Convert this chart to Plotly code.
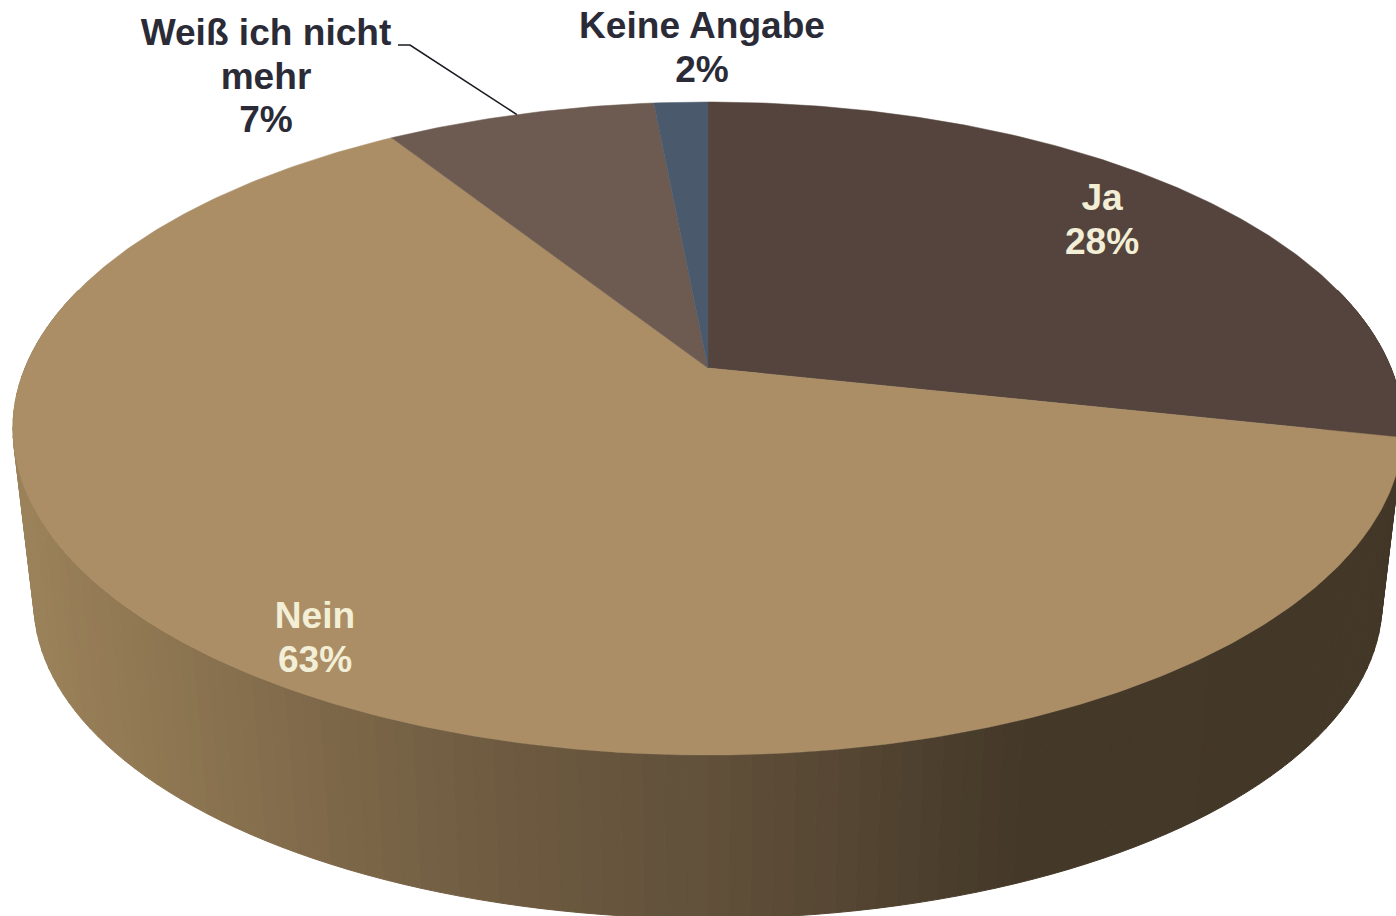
import numpy as np
import plotly.graph_objects as go

# Data
categories = ["Ja", "Nein", "Weiß ich nicht mehr", "Keine Angabe"]
values = [28.4, 62.6, 7.5, 1.5]
top_colors = ["#54443D", "#AB8E66", "#6D5B51", "#4A5A6C"]
label_lines = [["Ja", "28%"], ["Nein", "63%"], ["Weiß ich nicht", "mehr", "7%"], ["Keine Angabe", "2%"]]
label_colors = ["#F3EFD6", "#F3EFD6", "#2B2B38", "#2B2B38"]
label_anchor_x = [1102, 315, 266, 702]
label_first_y = [201, 619, 36, 29]
LINE_STEP = 43.5

# Projection of the tilted disc (pixel-like axis units)
CX, CY = 708.0, 368.0
K = 0.1853
B = 315.3
A = 683.0
RIM_SCALE_X, RIM_SCALE_Y, RIM_OFFSET = 0.97, 0.97, 175.0


def project(theta, r=1.0):
    sx, cy = r * np.sin(theta), r * np.cos(theta)
    w = 1 + K * cy
    return CX + A * sx / w, CY - B * cy / w


def project_bottom(theta):
    x, y = project(theta)
    return CX + (x - CX) * RIM_SCALE_X, CY + (y - CY) * RIM_SCALE_Y + RIM_OFFSET


def wall_color(x):
    stops_x = [30, 170, 320, 500, 700, 850, 1010, 1400]
    stops_r = [0x9B, 0x8E, 0x7F, 0x6E, 0x62, 0x55, 0x45, 0x43]
    stops_g = [0x82, 0x76, 0x69, 0x5B, 0x51, 0x46, 0x39, 0x37]
    stops_b = [0x5A, 0x52, 0x4A, 0x41, 0x3B, 0x33, 0x29, 0x28]
    return "rgb(%d,%d,%d)" % (
        np.interp(x, stops_x, stops_r),
        np.interp(x, stops_x, stops_g),
        np.interp(x, stops_x, stops_b),
    )


fig = go.Figure()

# Side wall strips
edges = np.radians(np.linspace(75, 285, 141))
for t0, t1 in zip(edges[:-1], edges[1:]):
    x0, y0 = project(t0)
    x1, y1 = project(t1)
    x2, y2 = project_bottom(t1)
    x3, y3 = project_bottom(t0)
    c = wall_color((x0 + x1 + x2 + x3) / 4)
    fig.add_trace(go.Scatter(
        x=[x0, x1, x2, x3, x0], y=[y0, y1, y2, y3, y0], mode="lines",
        fill="toself", fillcolor=c, line=dict(color=c, width=1),
        hoverinfo="skip", showlegend=False))

# Top sectors
total = sum(values)
start = 0.0
for name, v, col in zip(categories, values, top_colors):
    end = start + v / total * 2 * np.pi
    th = np.linspace(start, end, max(8, int(v * 6)))
    xs, ys = project(th)
    fig.add_trace(go.Scatter(
        x=np.r_[CX, xs, CX], y=np.r_[CY, ys, CY], mode="lines",
        fill="toself", fillcolor=col, line=dict(color=col, width=0.5),
        name=name, hoverinfo="name", showlegend=False))
    start = end

# Leader line from the "Weiß ich nicht mehr" label to the rim of its sector
weiss_edge_x, weiss_edge_y = project(np.radians(340.8))
fig.add_trace(go.Scatter(
    x=[398, 410, weiss_edge_x], y=[45, 45, weiss_edge_y], mode="lines",
    line=dict(color="#1A1A22", width=1.6), hoverinfo="skip", showlegend=False))

# Labels, one text point per line so that the line spacing stays tight
for lines, col, lx, ly in zip(label_lines, label_colors, label_anchor_x, label_first_y):
    fig.add_trace(go.Scatter(
        x=[lx] * len(lines), y=[ly + i * LINE_STEP for i in range(len(lines))],
        mode="text", text=lines, textposition="middle center",
        textfont=dict(family="Liberation Sans", size=37.1, color=col, weight="bold"),
        hoverinfo="skip", showlegend=False, cliponaxis=False))

fig.update_layout(
    width=1396, height=916, margin=dict(l=0, r=0, t=0, b=0),
    paper_bgcolor="white", plot_bgcolor="white", showlegend=False,
    xaxis=dict(range=[0, 1396], visible=False, fixedrange=True),
    yaxis=dict(range=[916, 0], visible=False, fixedrange=True),
)
fig.write_html(
    "out.html",
    config={"displayModeBar": False},
    post_script="document.body.style.margin='0';document.body.style.overflow='hidden';",
)
